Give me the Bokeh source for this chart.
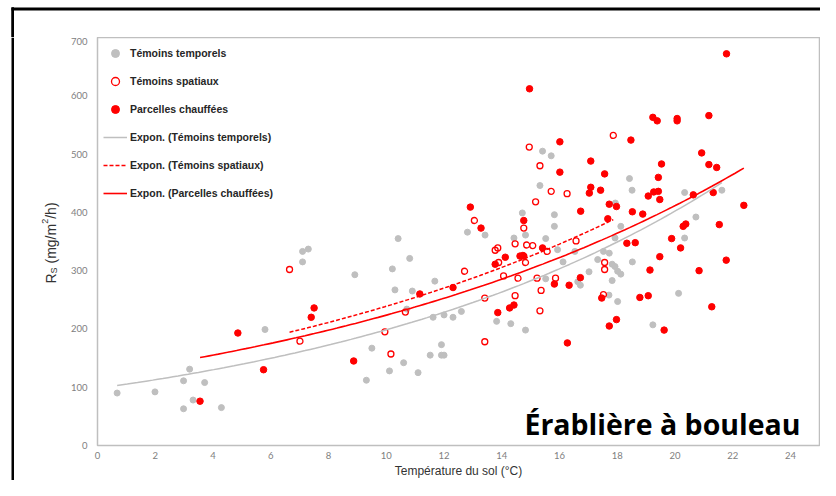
import numpy as np
from bokeh.plotting import figure
from bokeh.models import Range1d, FixedTicker, Label
from bokeh.layouts import row, column
from bokeh.embed import file_html
from bokeh.resources import INLINE

# ---------------- data ----------------
# Témoins temporels (grey dots)
tt_x = [0.68, 1.99, 2.98, 2.98, 3.19, 3.31, 3.71, 4.29, 5.80, 7.10, 7.10, 7.30, 8.91, 9.31, 9.50,
        10.11, 10.21, 10.30, 10.41, 10.60, 10.71, 10.81, 10.90, 11.10, 11.52, 11.62, 11.68, 11.91,
        11.91, 12.00, 12.00, 12.31, 12.60, 12.81, 13.42, 13.82, 14.31, 14.42, 14.71, 14.82, 14.82,
        15.32, 15.41, 15.52, 15.52, 15.71, 15.82, 15.82, 15.93, 16.12, 16.53, 16.63, 16.72, 17.02,
        17.32, 17.52, 17.71, 17.72, 17.82, 17.82, 17.92, 17.92, 17.93, 18.01, 18.01, 18.12, 18.12,
        18.42, 18.51, 18.52, 19.23, 20.12, 20.33, 20.33, 20.72, 21.62]
tt_y = [90, 92, 63, 111, 131, 78, 108, 65, 199, 315, 333, 337, 293, 112, 167,
        128, 303, 267, 355, 142, 234, 321, 265, 125, 155, 220, 282, 173,
        155, 155, 224, 220, 230, 366, 361, 213, 209, 356, 399, 361, 198,
        446, 505, 355, 286, 497, 396, 376, 336, 315, 333, 281, 275, 298,
        319, 333, 258, 330, 311, 283, 356, 307, 416, 299, 247, 294, 376,
        458, 438, 315, 207, 261, 356, 434, 392, 438]

# Témoins spatiaux (open red circles)
ts_x = [6.65, 7.01, 9.95, 10.16, 10.66, 12.71, 13.05, 13.41, 13.41, 13.77, 13.86, 13.89, 14.06,
        14.46, 14.46, 14.56, 14.76, 14.76, 14.82, 14.86, 14.95, 15.07, 15.17, 15.22, 15.32, 15.32,
        15.36, 15.57, 15.71, 15.86, 16.26, 16.57, 17.52, 17.56, 17.56, 17.86]
ts_y = [302, 179, 195, 157, 229, 299, 386, 253, 178, 335, 339, 314, 291,
        346, 257, 287, 373, 325, 314, 344, 512, 343, 418, 287, 480, 231,
        266, 333, 436, 287, 432, 351, 259, 314, 302, 532]

# Parcelles chauffées (filled red dots)
pc_x = [3.55, 4.86, 5.75, 7.40, 7.50, 8.87, 11.16, 12.31, 12.91, 13.28, 13.77, 13.86, 14.12, 14.27,
        14.42, 14.63, 14.73, 14.76, 14.96, 15.41, 15.82, 16.01, 16.01, 16.27, 16.33, 16.72, 16.73,
        17.03, 17.08, 17.08, 17.42, 17.46, 17.56, 17.67, 17.72, 17.72, 17.97, 17.97, 18.33, 18.47,
        18.52, 18.62, 18.78, 18.88, 19.07, 19.07, 19.13, 19.23, 19.26, 19.38, 19.42, 19.42, 19.47,
        19.47, 19.53, 19.62, 19.88, 20.07, 20.07, 20.19, 20.28, 20.37, 20.63, 20.83, 20.92, 21.17,
        21.17, 21.27, 21.32, 21.44, 21.53, 21.77, 21.78, 22.38]
pc_y = [76, 193, 130, 220, 236, 145, 260, 271, 409, 373, 311, 228, 323, 236,
        241, 325, 326, 386, 612, 339, 277, 521, 469, 176, 275, 288, 402,
        433, 443, 488, 438, 253, 466, 389, 414, 205, 410, 216, 347, 524,
        401, 348, 254, 397, 428, 257, 301, 563, 435, 557, 460, 436, 422,
        324, 483, 198, 355, 561, 557, 339, 376, 380, 430, 300, 502, 566,
        482, 238, 434, 477, 379, 318, 672, 412]

# Exponential trend lines y = a * exp(b * x)
fit_tt = (98.0, 0.0706)
fit_ts = (129.0, 0.0616)
fit_pc = (121.5, 0.0610)

x_ticks = [0, 2, 4, 6, 8, 10, 12, 14, 16, 18, 20, 22, 24]
y_ticks = [0, 100, 200, 300, 400, 500, 600, 700]

GREY = "#bfbfbf"
RED = "#ff0000"
TXT = "#333333"


def blank(w, h):
    # decoration strip whose data space equals its pixel space
    f = figure(width=w, height=h, output_backend="svg", toolbar_location=None,
               x_axis_location=None, y_axis_location=None,
               x_range=Range1d(0, w), y_range=Range1d(0, h),
               min_border=0, min_border_left=0, min_border_right=0,
               min_border_top=0, min_border_bottom=0)
    f.frame_align = False
    f.grid.visible = False
    f.outline_line_color = None
    f.background_fill_color = "white"
    f.border_fill_color = "white"
    return f


# ---------- top strip (full width): black chart border, top edge + left corner ----------
top = blank(820, 37)
top.quad(left=[11], right=[820], bottom=[27], top=[30], fill_color="#000000", line_color=None)
top.quad(left=[11], right=[13.5], bottom=[0], top=[30], fill_color="#000000", line_color=None)
top.segment(x0=[12.25], y0=[0], x1=[12.25], y1=[30], line_color="#000000", line_width=2.5)

# ---------- left strip: border continuation + y-axis title ----------
left = blank(60, 443)
left.quad(left=[11], right=[13.5], bottom=[0], top=[443], fill_color="#000000", line_color=None)

yl_common = dict(x_units="screen", y_units="screen", angle=np.pi / 2,
                 text_font="Liberation Sans", text_color=TXT,
                 text_align="left", text_baseline="alphabetic")
for txt, xx, yy, fs in [("R", 50, 197, "14px"), ("S", 53, 207.1, "9px"),
                        ("(mg/m", 50, 217.0, "14px"), ("2", 44, 256.7, "9px"),
                        ("/h)", 50, 261.7, "14px")]:
    left.add_layout(Label(x=xx, y=yy, text=txt, text_font_size=fs, **yl_common))

# ---------- main chart ----------
p = figure(width=760, height=443, output_backend="svg", toolbar_location=None,
           x_range=Range1d(0, 25), y_range=Range1d(0, 700),
           min_border_left=37, min_border_right=1, min_border_top=0, min_border_bottom=33)
p.frame_align = False
p.xgrid.visible = False
p.ygrid.visible = False
p.outline_line_color = GREY
p.outline_line_width = 1.5
p.background_fill_color = "white"
p.border_fill_color = "white"

for ax in (p.xaxis[0], p.yaxis[0]):
    ax.axis_line_color = None
    ax.major_tick_line_color = None
    ax.minor_tick_line_color = None
    ax.major_tick_out = 0
    ax.major_tick_in = 0
    ax.minor_tick_out = 0
    ax.minor_tick_in = 0
    ax.major_label_text_font = "Lato"
    ax.major_label_text_font_size = "9.5px"
    ax.major_label_text_color = "#808080"

p.xaxis.ticker = FixedTicker(ticks=x_ticks)
p.yaxis.ticker = FixedTicker(ticks=y_ticks)
p.xaxis.major_label_standoff = 6
p.yaxis.major_label_standoff = 10
p.xaxis.axis_label = "Température du sol (°C)"
p.xaxis.axis_label_text_font = "Liberation Sans"
p.xaxis.axis_label_text_font_size = "12px"
p.xaxis.axis_label_text_font_style = "normal"
p.xaxis.axis_label_text_color = TXT
p.xaxis.axis_label_standoff = 2

# scatter series
p.scatter(tt_x, tt_y, size=6, fill_color=GREY, line_color=GREY, legend_label="Témoins temporels")
p.scatter(ts_x, ts_y, size=6, fill_color=None, line_color=RED, line_width=1.3,
          legend_label="Témoins spatiaux")
p.scatter(pc_x, pc_y, size=6.5, fill_color=RED, line_color=RED, legend_label="Parcelles chauffées")


def trend(xs, fit):
    t = np.linspace(min(xs), max(xs), 120)
    return t, fit[0] * np.exp(fit[1] * t)


gx, gy = trend(tt_x, fit_tt)
sx, sy = trend(ts_x, fit_ts)
cx, cy = trend(pc_x, fit_pc)
p.line(gx, gy, line_color=GREY, line_width=1.5, legend_label="Expon. (Témoins temporels)")
p.line(sx, sy, line_color=RED, line_width=1.5, line_dash="4 2",
       legend_label="Expon. (Témoins spatiaux)")
p.line(cx, cy, line_color=RED, line_width=1.6, legend_label="Expon. (Parcelles chauffées)")

lg = p.legend[0]
lg.location = "top_left"
lg.margin = 0
lg.padding = 6
lg.spacing = 8
lg.glyph_height = 20
lg.glyph_width = 24
lg.label_height = 20
lg.label_standoff = 3
lg.label_text_font = "Liberation Sans"
lg.label_text_font_size = "10.5px"
lg.label_text_font_style = "bold"
lg.label_text_color = "#262626"
lg.background_fill_alpha = 0
lg.border_line_alpha = 0

# site title
p.add_layout(Label(x=703, y=22, x_units="screen", y_units="screen", text="Érablière à bouleau",
                   text_align="right", text_baseline="alphabetic", text_font="Open Sans",
                   text_font_size="28.5px", text_font_style="bold", text_color="#000000"))

layout = column(top, row(left, p))
open("out.html", "w", encoding="utf-8").write(file_html(layout, INLINE))
